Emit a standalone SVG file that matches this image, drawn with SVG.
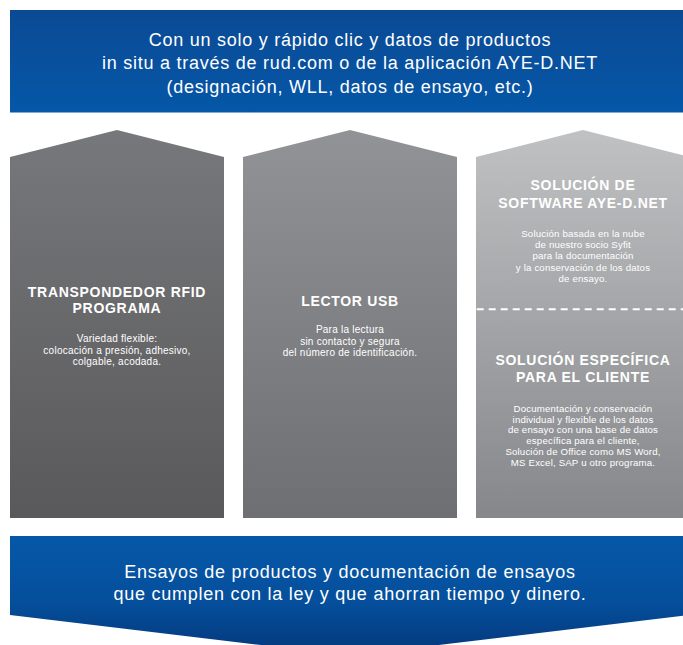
<svg xmlns="http://www.w3.org/2000/svg" width="683" height="645" viewBox="0 0 683 645">
  <defs>
    <linearGradient id="gTop" x1="0" y1="0" x2="0" y2="1">
      <stop offset="0" stop-color="#0b4a94"/>
      <stop offset="1" stop-color="#0557a8"/>
    </linearGradient>
    <linearGradient id="gBottom" x1="0" y1="0" x2="0" y2="1">
      <stop offset="0" stop-color="#0558a8"/>
      <stop offset="0.55" stop-color="#054f9c"/>
      <stop offset="1" stop-color="#04377a"/>
    </linearGradient>
    <linearGradient id="gCol1" x1="0" y1="0" x2="0" y2="1">
      <stop offset="0" stop-color="#77787b"/>
      <stop offset="1" stop-color="#59595b"/>
    </linearGradient>
    <linearGradient id="gCol2" x1="0" y1="0" x2="0" y2="1">
      <stop offset="0" stop-color="#929396"/>
      <stop offset="1" stop-color="#6e6f72"/>
    </linearGradient>
    <linearGradient id="gCol3" x1="0" y1="0" x2="0" y2="1">
      <stop offset="0" stop-color="#c0c1c3"/>
      <stop offset="1" stop-color="#86878a"/>
    </linearGradient>
  </defs>
  <style>
    text { fill: #ffffff; font-family: "Liberation Sans", Arial, sans-serif; text-anchor: middle; }
    .banner { font-size: 18px; letter-spacing: 0.75px; }
    .head { font-size: 14px; font-weight: bold; letter-spacing: 0.7px; }
    .body { font-size: 10px; letter-spacing: 0.25px; }
    .bodyS { font-size: 9.7px; letter-spacing: 0.15px; }
    .divider { stroke: #ffffff; stroke-width: 2; stroke-dasharray: 7 5; fill: none; }
  </style>

  <rect width="683" height="645" fill="#ffffff"/>

  <!-- header banner -->
  <g id="header">
    <rect x="10" y="10" width="680" height="102.5" fill="url(#gTop)"/>
    <text class="banner" x="350" y="45.7">Con un solo y rápido clic y datos de productos<tspan x="350" dy="23.65">in situ a través de rud.com o de la aplicación AYE-D.NET</tspan><tspan x="350" dy="23.65">(designación, WLL, datos de ensayo, etc.)</tspan></text>
  </g>

  <!-- column 1: RFID transponder -->
  <g id="rfid">
    <polygon points="10,157 117,130 224,157 224,518 10,518" fill="url(#gCol1)"/>
    <text class="head" x="117" y="296.7">TRANSPONDEDOR RFID<tspan x="117" dy="16.6">PROGRAMA</tspan></text>
    <text class="body" x="117" y="342">Variedad flexible:<tspan x="117" dy="11.5">colocación a presión, adhesivo,</tspan><tspan x="117" dy="11.5">colgable, acodada.</tspan></text>
  </g>

  <!-- column 2: USB reader -->
  <g id="usb">
    <polygon points="243,157 350,130 457,157 457,518 243,518" fill="url(#gCol2)"/>
    <text class="head" x="350" y="306">LECTOR USB</text>
    <text class="body" x="350" y="333.3">Para la lectura<tspan x="350" dy="11.35">sin contacto y segura</tspan><tspan x="350" dy="11.35">del número de identificación.</tspan></text>
  </g>

  <!-- column 3: software solutions -->
  <g id="software">
    <polygon points="476,157 583,130 690,157 690,518 476,518" fill="url(#gCol3)"/>
    <text class="head" x="583" y="190">SOLUCIÓN DE<tspan x="583" dy="18.3">SOFTWARE AYE-D.NET</tspan></text>
    <text class="bodyS" x="583" y="236.7">Solución basada en la nube<tspan x="583" dy="11.3">de nuestro socio Syfit</tspan><tspan x="583" dy="11.3">para la documentación</tspan><tspan x="583" dy="11.3">y la conservación de los datos</tspan><tspan x="583" dy="11.3">de ensayo.</tspan></text>
  </g>
  <g id="custom">
    <text class="head" x="583" y="365">SOLUCIÓN ESPECÍFICA<tspan x="583" dy="17">PARA EL CLIENTE</tspan></text>
    <text class="bodyS" x="583" y="411.7">Documentación y conservación<tspan x="583" dy="10.84">individual y flexible de los datos</tspan><tspan x="583" dy="10.84">de ensayo con una base de datos</tspan><tspan x="583" dy="10.84">específica para el cliente,</tspan><tspan x="583" dy="10.84">Solución de Office como MS Word,</tspan><tspan x="583" dy="10.84">MS Excel, SAP u otro programa.</tspan></text>
  </g>

  <!-- dashed separator between the two software options -->
  <g id="connectors">
    <line class="divider" x1="476.7" y1="309.3" x2="690" y2="309.3"/>
  </g>

  <!-- result banner, arrow-shaped -->
  <g id="result">
    <polygon points="10,536 690,536 690,615 350,655.6 10,615" fill="url(#gBottom)"/>
    <text class="banner" x="350" y="578.3">Ensayos de productos y documentación de ensayos<tspan x="350" dy="21.7">que cumplen con la ley y que ahorran tiempo y dinero.</tspan></text>
  </g>
</svg>
